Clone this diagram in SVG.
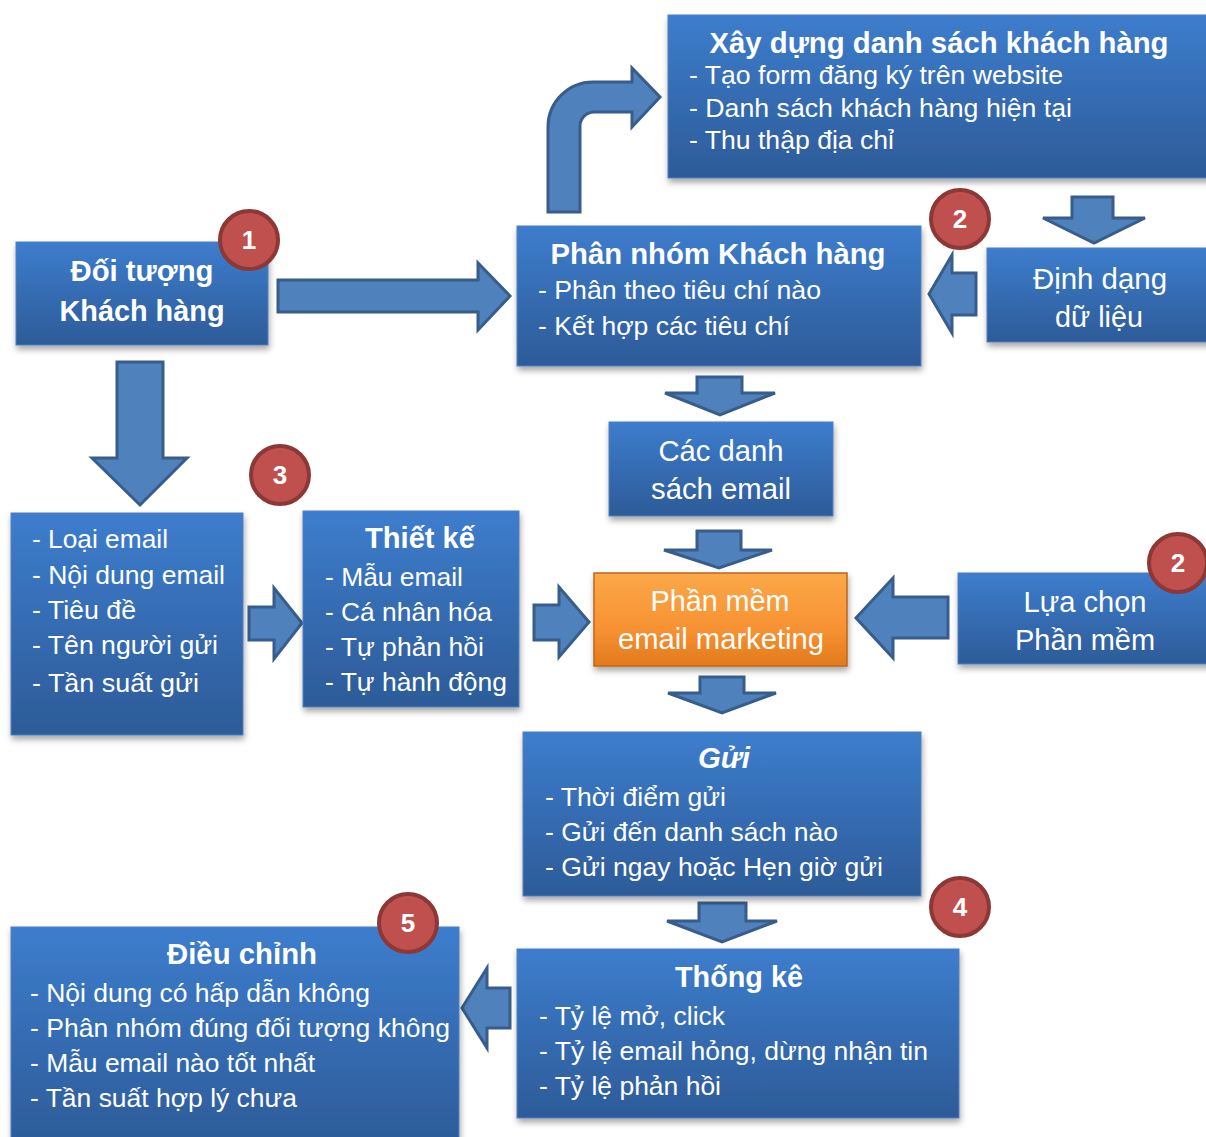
<svg xmlns="http://www.w3.org/2000/svg" width="1206" height="1137" viewBox="0 0 1206 1137">
<defs>
<linearGradient id="blue" x1="0" y1="0" x2="0" y2="1">
<stop offset="0" stop-color="#3D7DCD"/>
<stop offset="1" stop-color="#2D5B98"/>
</linearGradient>
<linearGradient id="orange" x1="0" y1="0" x2="0" y2="1">
<stop offset="0" stop-color="#FBA848"/>
<stop offset="0.6" stop-color="#F79233"/>
<stop offset="1" stop-color="#E27A1A"/>
</linearGradient>
<filter id="sh" x="-10%" y="-10%" width="120%" height="130%">
<feDropShadow dx="1" dy="4" stdDeviation="3" flood-color="#000" flood-opacity="0.35"/>
</filter>
<style>
.box{fill:url(#blue);stroke:#5080C0;stroke-width:1;filter:url(#sh)}
.obox{fill:url(#orange);stroke:#C0651A;stroke-width:1.5;filter:url(#sh)}
.arr{fill:#4F81BD;stroke:#385D8A;stroke-width:3;stroke-linejoin:miter}
.bd circle{fill:#C0504D;stroke:#8C3836;stroke-width:4}
.bd text{font-family:"Liberation Sans",Arial,sans-serif;font-weight:bold;font-size:26px;fill:#fff;text-anchor:middle}
text{font-family:"Liberation Sans",Arial,sans-serif;fill:#fff}
.t{font-weight:bold;font-size:29px;text-anchor:middle}
.c{font-size:29px;text-anchor:middle}
.l{font-size:26px}
</style>
</defs>
<g id="connectors">
<path class="arr" d="M278,280 H478 V263 L510,296 L478,330 V312 H278 Z"/>
<path class="arr" d="M117,362 H163 V458 H187 L140,505 L92,458 H117 Z"/>
<path class="arr" d="M548,212 V127 A45,45 0 0 1 593,82 H632 V68 L660,97 L632,127 V112 H594 A14,14 0 0 0 580,126 V212 Z"/>
<path class="arr" d="M1072,197 H1113 V218 H1145 L1094,243 L1043,218 H1072 Z"/>
<path class="arr" d="M976,273 H952 V255 L929,294 L952,333 V315 H976 Z"/>
<path class="arr" d="M697,377 H742 V393 H775 L720,415 L665,393 H697 Z"/>
<path class="arr" d="M697,531 H741 V550 H772 L719,568 L664,550 H697 Z"/>
<path class="arr" d="M249,607 H274 V588 L302,623 L274,659 V640 H249 Z"/>
<path class="arr" d="M534,605 H559 V587 L589,622 L559,657 V640 H534 Z"/>
<path class="arr" d="M948,597 H893 V578 L856,618 L893,658 V638 H948 Z"/>
<path class="arr" d="M700,677 H744 V693 H776 L722,713 L668,693 H700 Z"/>
<path class="arr" d="M699,903 H746 V921 H777 L722,942 L667,921 H699 Z"/>
<path class="arr" d="M510,988 H487 V968 L462,1008 L487,1048 V1028 H510 Z"/>
</g>
<g id="n-doituong">
<rect class="box" x="16" y="242" width="252" height="103"/>
<text class="t" x="142" y="281" textLength="143" lengthAdjust="spacingAndGlyphs">Đối tượng</text>
<text class="t" x="142" y="321" textLength="165" lengthAdjust="spacingAndGlyphs">Khách hàng</text>
</g>
<g id="n-xaydung">
<rect class="box" x="668" y="15" width="545" height="163"/>
<text class="t" x="939" y="53" textLength="459" lengthAdjust="spacingAndGlyphs">Xây dựng danh sách khách hàng</text>
<text class="l" x="689" y="84" textLength="374" lengthAdjust="spacingAndGlyphs">- Tạo form đăng ký trên website</text>
<text class="l" x="689" y="117" textLength="383" lengthAdjust="spacingAndGlyphs">- Danh sách khách hàng hiện tại</text>
<text class="l" x="689" y="149" textLength="205" lengthAdjust="spacingAndGlyphs">- Thu thập địa chỉ</text>
</g>
<g id="n-phannhom">
<rect class="box" x="517" y="226" width="404" height="140"/>
<text class="t" x="718" y="264" textLength="335" lengthAdjust="spacingAndGlyphs">Phân nhóm Khách hàng</text>
<text class="l" x="538" y="299" textLength="283" lengthAdjust="spacingAndGlyphs">- Phân theo tiêu chí nào</text>
<text class="l" x="538" y="335" textLength="252" lengthAdjust="spacingAndGlyphs">- Kết hợp các tiêu chí</text>
</g>
<g id="n-dinhdang">
<rect class="box" x="987" y="248" width="226" height="94"/>
<text class="c" x="1100" y="289" textLength="134" lengthAdjust="spacingAndGlyphs">Định dạng</text>
<text class="c" x="1099" y="327" textLength="88" lengthAdjust="spacingAndGlyphs">dữ liệu</text>
</g>
<g id="n-cacdanhsach">
<rect class="box" x="609" y="422" width="224" height="94"/>
<text class="c" x="721" y="461" textLength="125" lengthAdjust="spacingAndGlyphs">Các danh</text>
<text class="c" x="721" y="499" textLength="140" lengthAdjust="spacingAndGlyphs">sách email</text>
</g>
<g id="n-phanmem">
<rect class="obox" x="594" y="573" width="253" height="93"/>
<text class="c" x="720" y="611" textLength="139" lengthAdjust="spacingAndGlyphs">Phần mềm</text>
<text class="c" x="721" y="649" textLength="206" lengthAdjust="spacingAndGlyphs">email marketing</text>
</g>
<g id="n-luachon">
<rect class="box" x="958" y="573" width="255" height="91"/>
<text class="c" x="1085" y="612" textLength="123" lengthAdjust="spacingAndGlyphs">Lựa chọn</text>
<text class="c" x="1085" y="650" textLength="140" lengthAdjust="spacingAndGlyphs">Phần mềm</text>
</g>
<g id="n-noidung">
<rect class="box" x="11" y="513" width="232" height="222"/>
<text class="l" x="32" y="548" textLength="136" lengthAdjust="spacingAndGlyphs">- Loại email</text>
<text class="l" x="32" y="584" textLength="193" lengthAdjust="spacingAndGlyphs">- Nội dung email</text>
<text class="l" x="32" y="619" textLength="104" lengthAdjust="spacingAndGlyphs">- Tiêu đề</text>
<text class="l" x="32" y="654" textLength="186" lengthAdjust="spacingAndGlyphs">- Tên người gửi</text>
<text class="l" x="32" y="692" textLength="167" lengthAdjust="spacingAndGlyphs">- Tần suất gửi</text>
</g>
<g id="n-thietke">
<rect class="box" x="303" y="511" width="216" height="196"/>
<text class="t" x="420" y="548" textLength="110" lengthAdjust="spacingAndGlyphs">Thiết kế</text>
<text class="l" x="325" y="586" textLength="138" lengthAdjust="spacingAndGlyphs">- Mẫu email</text>
<text class="l" x="325" y="621" textLength="167" lengthAdjust="spacingAndGlyphs">- Cá nhân hóa</text>
<text class="l" x="325" y="656" textLength="159" lengthAdjust="spacingAndGlyphs">- Tự phản hồi</text>
<text class="l" x="325" y="691" textLength="182" lengthAdjust="spacingAndGlyphs">- Tự hành động</text>
</g>
<g id="n-gui">
<rect class="box" x="523" y="732" width="398" height="164"/>
<text class="t" x="724" y="768" font-style="italic" textLength="52" lengthAdjust="spacingAndGlyphs">Gửi</text>
<text class="l" x="545" y="806" textLength="181" lengthAdjust="spacingAndGlyphs">- Thời điểm gửi</text>
<text class="l" x="545" y="841" textLength="293" lengthAdjust="spacingAndGlyphs">- Gửi đến danh sách nào</text>
<text class="l" x="545" y="876" textLength="338" lengthAdjust="spacingAndGlyphs">- Gửi ngay hoặc Hẹn giờ gửi</text>
</g>
<g id="n-thongke">
<rect class="box" x="517" y="949" width="442" height="169"/>
<text class="t" x="739" y="987" textLength="128" lengthAdjust="spacingAndGlyphs">Thống kê</text>
<text class="l" x="539" y="1025" textLength="186" lengthAdjust="spacingAndGlyphs">- Tỷ lệ mở, click</text>
<text class="l" x="539" y="1060" textLength="389" lengthAdjust="spacingAndGlyphs">- Tỷ lệ email hỏng, dừng nhận tin</text>
<text class="l" x="539" y="1095" textLength="182" lengthAdjust="spacingAndGlyphs">- Tỷ lệ phản hồi</text>
</g>
<g id="n-dieuchinh">
<rect class="box" x="11" y="927" width="448" height="220"/>
<text class="t" x="242" y="964" textLength="150" lengthAdjust="spacingAndGlyphs">Điều chỉnh</text>
<text class="l" x="30" y="1002" textLength="340" lengthAdjust="spacingAndGlyphs">- Nội dung có hấp dẫn không</text>
<text class="l" x="30" y="1037" textLength="420" lengthAdjust="spacingAndGlyphs">- Phân nhóm đúng đối tượng không</text>
<text class="l" x="30" y="1072" textLength="285" lengthAdjust="spacingAndGlyphs">- Mẫu email nào tốt nhất</text>
<text class="l" x="30" y="1107" textLength="267" lengthAdjust="spacingAndGlyphs">- Tần suất hợp lý chưa</text>
</g>
<g id="badge-1" class="bd"><circle cx="249" cy="240" r="29"/><text x="249" y="249">1</text></g>
<g id="badge-2a" class="bd"><circle cx="960" cy="219" r="29"/><text x="960" y="228">2</text></g>
<g id="badge-3" class="bd"><circle cx="280" cy="475" r="29"/><text x="280" y="484">3</text></g>
<g id="badge-2b" class="bd"><circle cx="1178" cy="563" r="29"/><text x="1178" y="572">2</text></g>
<g id="badge-4" class="bd"><circle cx="960" cy="907" r="29"/><text x="960" y="916">4</text></g>
<g id="badge-5" class="bd"><circle cx="408" cy="923" r="29"/><text x="408" y="932">5</text></g>
</svg>
